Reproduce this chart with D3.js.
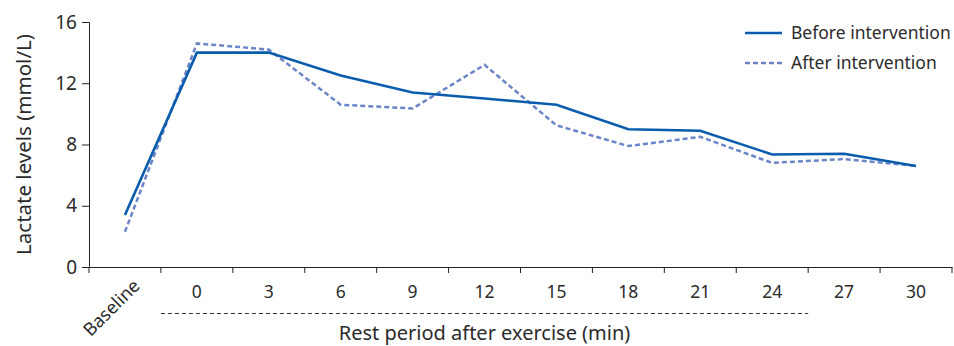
<!DOCTYPE html>
<html>
<head>
<meta charset="utf-8">
<script src="https://cdn.jsdelivr.net/npm/d3@7"></script>
<style>
  body { margin: 0; background: #fff; }
  text { font-family: "Noto Sans", "DejaVu Sans", sans-serif; fill: #2b2b2b; }
</style>
</head>
<body>
<div id="chart"></div>
<script>
// Categories along the x axis
const categories = ['Baseline', '0', '3', '6', '9', '12', '15', '18', '21', '24', '27', '30'];
// Lactate levels (mmol/L) per category
const beforeValues = [3.4, 14.0, 14.0, 12.5, 11.4, 11.0, 10.6, 9.0, 8.9, 7.35, 7.4, 6.6];
const afterValues = [2.3, 14.6, 14.2, 10.6, 10.35, 13.2, 9.25, 7.9, 8.5, 6.8, 7.05, 6.6];
const yTicks = [0, 4, 8, 12, 16];
const seriesNames = ['Before intervention', 'After intervention'];

const width = 954, height = 346;
const margin = { top: 22, right: 2, bottom: 79, left: 89 };

const svg = d3.select('#chart')
  .append('svg')
  .attr('width', width)
  .attr('height', height);

// Scales
const x = d3.scaleBand()
  .domain(categories)
  .range([margin.left, width - margin.right]);

const y = d3.scaleLinear()
  .domain([0, 16])
  .range([height - margin.bottom, margin.top]);

const colours = ['#0a5cad', '#6c85c8'];

// Y axis
const yAxis = svg.append('g')
  .attr('transform', `translate(${margin.left},0)`)
  .call(d3.axisLeft(y).tickValues(yTicks).tickSize(7).tickPadding(5));
yAxis.select('.domain').attr('stroke', '#222');
yAxis.selectAll('.tick line').attr('stroke', '#222');
yAxis.selectAll('.tick text')
  .style('font-size', '19px')
  .attr('fill', '#2b2b2b');

// X axis, ticks between categories
const xAxis = svg.append('g')
  .attr('transform', `translate(0,${y(0)})`)
  .call(d3.axisBottom(x).tickSize(0).tickSizeOuter(0).tickFormat(''));
xAxis.select('.domain').attr('stroke', '#222');
xAxis.selectAll('.tick').remove();

const boundaries = categories.map(c => x(c)).concat([x.range()[1]]);
svg.append('g')
  .selectAll('line')
  .data(boundaries)
  .enter()
  .append('line')
  .attr('x1', d => d)
  .attr('x2', d => d)
  .attr('y1', y(0))
  .attr('y2', y(0) + 6)
  .attr('stroke', '#222')
  .attr('stroke-width', 1);

// Tick labels
svg.append('g')
  .selectAll('text')
  .data(categories.slice(1))
  .enter()
  .append('text')
  .attr('x', d => x(d) + x.bandwidth() / 2)
  .attr('y', y(0) + 31)
  .attr('text-anchor', 'middle')
  .style('font-size', '17.5px')
  .text(d => d);

svg.append('text')
  .attr('transform', `translate(${x('Baseline') + x.bandwidth() / 2 + 16},${y(0) + 20}) rotate(-45)`)
  .attr('text-anchor', 'end')
  .style('font-size', '18px')
  .text('Baseline');

// Dashed bracket under the rest period ticks
svg.append('line')
  .attr('x1', x('0'))
  .attr('x2', x('27'))
  .attr('y1', y(0) + 46.5)
  .attr('y2', y(0) + 46.5)
  .attr('stroke', '#333')
  .attr('stroke-width', 1)
  .attr('stroke-dasharray', '4,3');

svg.append('text')
  .attr('x', (x('0') + x('27')) / 2)
  .attr('y', y(0) + 73)
  .attr('text-anchor', 'middle')
  .style('font-size', '20px')
  .text('Rest period after exercise (min)');

// Y axis title
svg.append('text')
  .attr('transform', `translate(31,${(y(0) + y(16)) / 2}) rotate(-90)`)
  .attr('text-anchor', 'middle')
  .style('font-size', '20.5px')
  .text('Lactate levels (mmol/L)');

// Lines
const line = d3.line()
  .x((d, i) => x(categories[i]) + x.bandwidth() / 2)
  .y(d => y(d));

svg.append('path')
  .datum(afterValues)
  .attr('d', line)
  .attr('fill', 'none')
  .attr('stroke', colours[1])
  .attr('stroke-width', 2.5)
  .attr('stroke-dasharray', '5,3');

svg.append('path')
  .datum(beforeValues)
  .attr('d', line)
  .attr('fill', 'none')
  .attr('stroke', colours[0])
  .attr('stroke-width', 2.6);

// Legend
const legend = svg.append('g').attr('transform', 'translate(745,33)');
seriesNames.forEach((name, i) => {
  const g = legend.append('g').attr('transform', `translate(0,${i * 30})`);
  g.append('line')
    .attr('x1', 0)
    .attr('x2', 37)
    .attr('stroke', colours[i])
    .attr('stroke-width', 2.5)
    .attr('stroke-dasharray', i === 1 ? '5,3' : null);
  g.append('text')
    .attr('x', 46)
    .attr('dy', '0.36em')
    .style('font-size', '17.5px')
    .text(name);
});
</script>
</body>
</html>
